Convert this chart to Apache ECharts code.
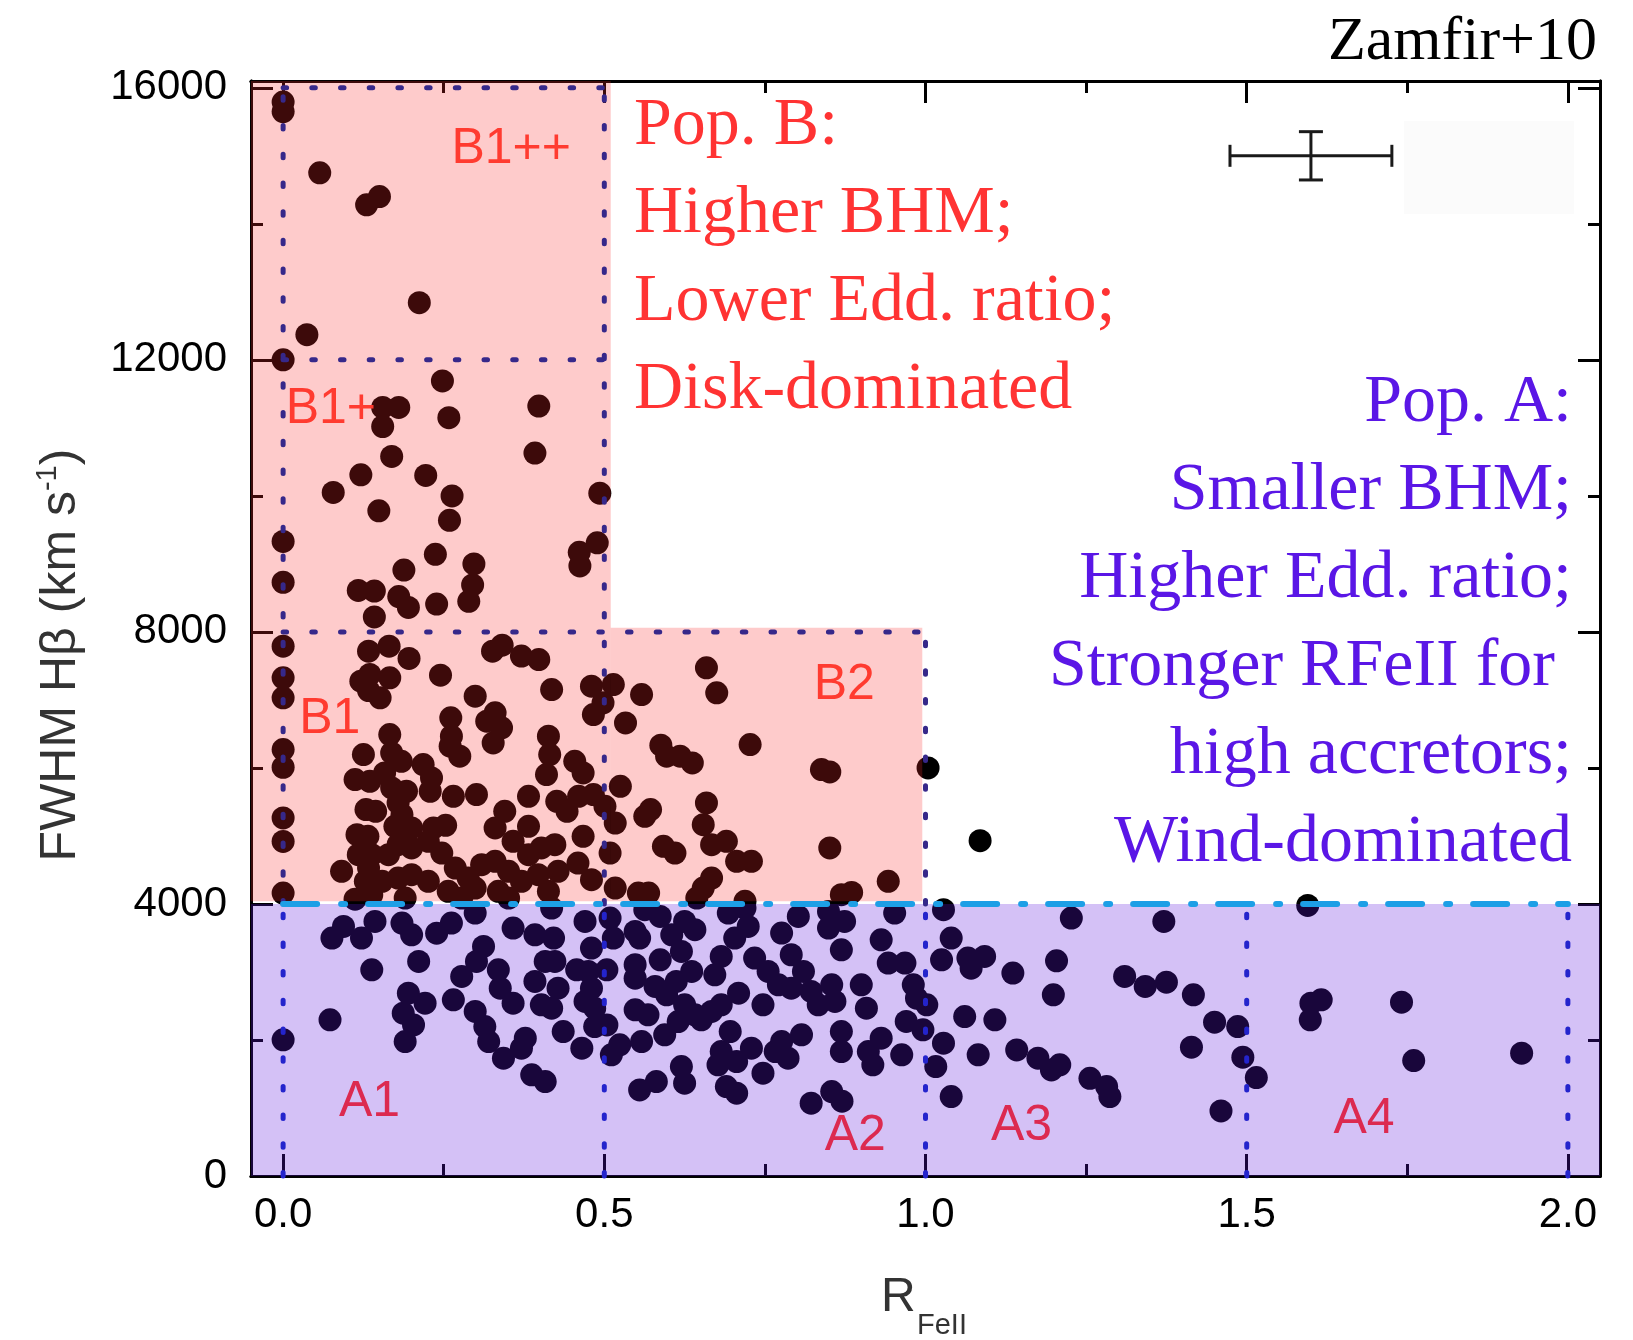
<!DOCTYPE html>
<html><head><meta charset="utf-8">
<script src="https://cdn.jsdelivr.net/npm/echarts@6/dist/echarts.min.js"></script>
<style>html,body{margin:0;padding:0;background:#fff}#chart{width:1633px;height:1340px}</style>
</head><body><div id="chart"></div>
<script>
// ---------------- DATA ----------------
const xTickMajor = [0, 0.5, 1.0, 1.5, 2.0];
const xTickMinor = [0.25, 0.75, 1.25, 1.75];
const yTickMajor = [0, 4000, 8000, 12000, 16000];
const yTickMinor = [2000, 6000, 10000, 14000];

// Population B sources (FWHM > 4000)
const popBPoints = [
[0,15790],[0,15650],[0.057,14750],[0.130,14280],[0.150,14400],[0.212,12840],[0.037,12370],[0,12000],[0.248,11690],[0.155,11300],[0.180,11300],[0.258,11150],[0.155,11020],[0.398,11320],[0.392,10630],[0.169,10580],[0.121,10310],[0.222,10300],[0.078,10050],[0.263,10000],[0.493,10040],[0.149,9780],[0.259,9640],[0,9330],[0.489,9310],[0.461,9170],[0.462,8970],[0.237,9140],[0.297,9000],[0.295,8690],[0.289,8450],[0.188,8910],[0,8730],[0.117,8610],[0.142,8600],[0.180,8520],[0.195,8360],[0.239,8410],[0.142,8220],
[0,7790],[0,7325],[0,7030],[0,6270],[0,6010],[0,5265],[0,4920],[0,4160],
[0.133,7717],[0.165,7790],[0.196,7610],[0.121,7276],[0.135,7374],[0.166,7325],[0.133,7138],[0.151,7030],[0.245,7364],[0.299,7055],[0.326,7717],[0.341,7805],[0.371,7644],[0.398,7594],[0.418,7153],
[0.261,6736],[0.262,6466],[0.260,6319],[0.275,6172],[0.317,6687],[0.330,6810],[0.340,6589],[0.327,6368],[0.166,6491],[0.125,6196],[0.169,6221],[0.184,6098],
[0.112,5828],[0.135,5804],[0.158,5926],[0.169,5706],[0.192,5657],[0.218,6049],[0.231,5853],[0.229,5657],[0.129,5387],[0.144,5362],[0.179,5485],[0.185,5313],[0.265,5583],[0.301,5608],[0.345,5362],[0.382,5583],
[0.115,5019],[0.132,4994],[0.174,5141],[0.200,5117],[0.234,5117],[0.253,5156],[0.330,5117],[0.382,5141],[0.358,4921],
[0.091,4479],[0.117,4725],[0.138,4725],[0.133,4528],[0.164,4725],[0.179,4872],[0.200,4823],[0.226,4921],[0.247,4749],[0.268,4528],[0.288,4381],[0.309,4577],[0.330,4626],[0.351,4479],[0.382,4725],[0.402,4823],
[0.128,4332],[0.154,4332],[0.179,4381],[0.200,4430],[0.226,4332],[0.257,4185],[0.299,4234],[0.335,4185],[0.371,4332],[0.397,4430],[0.413,4185],
[0.112,4070],[0.138,4136],[0.190,4087],[0.278,4087],[0.351,4087],
[0.480,7202],[0.514,7226],[0.558,7079],[0.498,6957],[0.483,6785],[0.533,6662],[0.659,7472],[0.675,7104],[0.727,6343],[0.588,6334],[0.597,6172],[0.618,6172],[0.637,6074],[0.838,5976],[0.851,5941],[0.413,6466],[0.415,6196],[0.410,5902],[0.454,6098],[0.467,5927],[0.525,5730],[0.426,5509],[0.442,5362],[0.460,5583],[0.483,5608],[0.501,5436],[0.517,5190],[0.563,5289],[0.572,5387],[0.659,5485],[0.654,5166],[0.667,4872],[0.690,4921],[0.706,4626],[0.729,4626],[0.592,4847],[0.610,4749],[0.467,4994],[0.423,4872],[0.509,4749],[0.459,4602],[0.480,4357],[0.428,4479],[0.517,4234],[0.553,4160],[0.569,4160],[0.667,4381],[0.654,4234],[0.644,4087],[0.851,4823],[0.869,4136],[0.719,4038],
[0.942,4332],[0.885,4170]
];

// Population A sources (FWHM < 4000)
const popAPoints = [
[0.076,3498],[0.094,3670],[0.122,3498],[0.143,3743],[0.138,3032],[0.073,2296],[0,2002],[0.195,2688],[0.221,2541],[0.187,2394],[0.203,2222],[0.190,1977],[0.211,3155],[0.185,3719],[0.200,3547],[0.239,3571],[0.262,3719],[0.299,3866],[0.312,3375],[0.301,3155],[0.335,3032],[0.278,2934],[0.265,2590],[0.299,2419],[0.314,2198],[0.320,1977],[0.343,1732],[0.338,2762],[0.358,2541],[0.392,2860],[0.402,2517],[0.377,2026],[0.371,1879],[0.387,1487],[0.408,1388],[0.358,3645],[0.392,3547],[0.408,3155],
[0.418,3939],[0.470,3743],[0.509,3792],[0.563,3915],[0.587,3817],[0.625,3743],[0.641,3621],[0.693,3866],[0.719,3939],[0.724,3670],[0.802,3817],[0.849,3890],
[0.421,3498],[0.480,3351],[0.514,3498],[0.555,3498],[0.548,3596],[0.605,3547],[0.620,3302],[0.703,3498],[0.776,3572],[0.791,3253],[0.849,3645],[0.869,3326],
[0.423,3155],[0.457,3032],[0.475,3007],[0.504,3032],[0.548,3106],[0.587,3179],[0.636,3007],[0.682,3228],[0.734,3204],[0.755,3007],[0.810,3007],
[0.428,2762],[0.480,2762],[0.548,2909],[0.579,2787],[0.612,2860],[0.672,2958],[0.709,2688],[0.771,2811],[0.791,2762],[0.822,2713],[0.854,2811],
[0.418,2468],[0.470,2566],[0.485,2468],[0.548,2443],[0.568,2370],[0.597,2664],[0.625,2517],[0.641,2370],[0.667,2419],[0.682,2517],[0.747,2517],[0.833,2517],[0.859,2566],
[0.436,2124],[0.485,2198],[0.504,2222],[0.558,1977],[0.594,2075],[0.615,2271],[0.651,2296],[0.696,2124],[0.776,1977],[0.807,2075],[0.869,2124],
[0.465,1879],[0.511,1781],[0.524,1928],[0.682,1830],[0.706,1683],[0.729,1879],[0.766,1830],[0.786,1732],[0.869,1830],
[0.620,1609],[0.625,1364],[0.677,1634],[0.747,1511],
[0.555,1266],[0.581,1388],[0.690,1315],[0.706,1217],
[0.822,1070],[0.854,1241],[0.870,1100],
[0.952,3866],[1.028,3915],[1.227,3792],[0.874,3743],[0.931,3473],[1.040,3498],[0.942,3130],[0.968,3130],[1.025,3179],[1.066,3204],[1.071,3056],[1.092,3228],[1.136,2983],[1.204,3164],[1.310,2934],[1.199,2664],
[0.900,2811],[0.981,2811],[0.986,2615],[1.002,2517],[0.908,2468],[0.970,2272],[1.061,2345],[1.108,2296],[0.996,2149],[1.028,1953],
[0.931,2026],[0.911,1830],[0.963,1781],[0.918,1634],
[1.016,1609],[1.082,1781],[1.142,1854],[1.175,1732],[1.196,1560],[1.209,1634],[1.256,1437],[1.282,1315],[1.287,1168],[1.040,1168],
[1.371,3743],[1.342,2787],[1.375,2850],[1.417,2664],[1.450,2262],[1.486,2198],[1.414,1894],[1.494,1747],[1.515,1447],[1.460,957],[1.600,2541],[1.616,2590],[1.599,2296],[1.741,2556],[1.760,1697],[1.928,1805]
];

// Sources outside the shaded boxes
const otherPoints = [[1.004,6000],[1.085,4930],[1.595,3979]];

// Shaded regions [x0, y0, x1, y1]
const regionPopB = [[-0.05,4040,0.51,16100],[0.51,4040,0.995,8060]];
const regionPopA = [[-0.05,0,2.05,4000]];

// Dotted bin boundaries [x0, y0, x1, y1]
const binLinesB = [[0,4000,0,16100],[0.5,4000,0.5,16100],[0,16000,0.5,16000],[0,12000,0.5,12000],[0,8000,1.0,8000],[1.0,4000,1.0,8000]];
const binLinesA = [[0,0,0,4000],[0.5,0,0.5,4000],[1.0,0,1.0,4000],[1.5,0,1.5,4000],[2.0,0,2.0,4000]];
const popBoundary = [[0,4000,2.0,4000]];

// typical error bar [x, y, xErr, yErr]
const errorBar = [[1.6,15000,0.126,355]];

// spectral-type labels [x, y]
const labelNamesB = ['B1++','B1+','B1','B2'];
const labelPosB = [[0.262,15090],[0.004,11270],[0.025,6710],[0.826,7220]];
const labelNamesA = ['A1','A2','A3','A4'];
const labelPosA = [[0.087,1090],[0.843,580],[1.102,725],[1.635,830]];

const popBText = ['Pop. B:','Higher BHM;','Lower Edd. ratio;','Disk-dominated'];
const popAText = ['Pop. A:','Smaller BHM;','Higher Edd. ratio;','Stronger RFeII for ','high accretors;','Wind-dominated'];

// ---------------- CHART ----------------
const SANS = '"Liberation Sans", Arial, Helvetica, sans-serif';
const SERIF = '"Liberation Serif", "Times New Roman", serif';
const X_MIN = -0.05, X_MAX = 2.05, Y_MIN = 0, Y_MAX = 16100;

function xAxisDef(pos, ticks, len, labels) {
  return {
    type: 'value', min: X_MIN, max: X_MAX, position: pos,
    axisLine: { show: true, onZero: false, lineStyle: { color: '#000', width: 3 } },
    axisTick: { show: true, inside: true, length: len, customValues: ticks, lineStyle: { color: '#000', width: 3 } },
    axisLabel: labels ? { show: true, customValues: ticks, formatter: v => Number(v).toFixed(1), fontSize: 42, fontFamily: SANS, color: '#000', margin: 18 } : { show: false },
    splitLine: { show: false }
  };
}
function yAxisDef(pos, ticks, len, labels) {
  return {
    type: 'value', min: Y_MIN, max: Y_MAX, position: pos,
    axisLine: { show: true, onZero: false, lineStyle: { color: '#000', width: 3 } },
    axisTick: { show: true, inside: true, length: len, customValues: ticks, lineStyle: { color: '#000', width: 3 } },
    axisLabel: labels ? { show: true, customValues: ticks, formatter: v => String(Math.round(v)), fontSize: 42, fontFamily: SANS, color: '#000', margin: 24 } : { show: false },
    splitLine: { show: false }
  };
}

function rectSeries(data, fill, z) {
  return {
    type: 'custom', data, z, silent: true,
    renderItem(params, api) {
      const a = api.coord([api.value(0), api.value(3)]);
      const b = api.coord([api.value(2), api.value(1)]);
      return { type: 'rect', shape: { x: a[0], y: a[1], width: b[0] - a[0], height: b[1] - a[1] }, style: { fill } };
    }
  };
}
function segSeries(data, style, z) {
  return {
    type: 'custom', data, z, silent: true,
    renderItem(params, api) {
      const a = api.coord([api.value(0), api.value(1)]);
      const b = api.coord([api.value(2), api.value(3)]);
      return { type: 'line', shape: { x1: a[0], y1: a[1], x2: b[0], y2: b[1] }, style: Object.assign({ fill: null }, style) };
    }
  };
}
function labelSeries(pos, names, color, z) {
  return {
    type: 'custom', data: pos, z, silent: true,
    renderItem(params, api) {
      const p = api.coord([api.value(0), api.value(1)]);
      return { type: 'text', x: p[0], y: p[1], style: { text: names[params.dataIndex], font: '50px ' + SANS, fill: color, align: 'left', verticalAlign: 'middle' } };
    }
  };
}
function scatterSeries(data) {
  return { type: 'scatter', data, symbol: 'circle', symbolSize: 23, z: 2, silent: true,
    itemStyle: { color: '#000', opacity: 1, borderWidth: 0 } };
}

const dotB = { stroke: '#36288a', lineWidth: 5, lineDash: [3.5, 25.2], lineCap: 'round' };
const dotA = { stroke: '#2424cc', lineWidth: 5, lineDash: [3.5, 25.2], lineCap: 'round' };

const chart = echarts.init(document.getElementById('chart'), null, { renderer: 'canvas' });
chart.setOption({
  animation: false,
  backgroundColor: '#ffffff',
  grid: { left: 251, right: 33, top: 81, bottom: 164, containLabel: false, outerBoundsMode: 'none' },
  xAxis: [
    xAxisDef('bottom', xTickMajor, 22, true),
    xAxisDef('bottom', xTickMinor, 12, false),
    xAxisDef('top', xTickMajor, 22, false),
    xAxisDef('top', xTickMinor, 12, false)
  ],
  yAxis: [
    yAxisDef('left', yTickMajor, 22, true),
    yAxisDef('left', yTickMinor, 12, false),
    yAxisDef('right', yTickMajor, 22, false),
    yAxisDef('right', yTickMinor, 12, false)
  ],
  series: [
    scatterSeries(popBPoints),
    scatterSeries(popAPoints),
    scatterSeries(otherPoints),
    rectSeries(regionPopB, 'rgba(250,40,40,0.245)', 3),
    rectSeries(regionPopA, 'rgba(92,24,222,0.265)', 3),
    segSeries(binLinesB, dotB, 4),
    segSeries(binLinesA, dotA, 4),
    segSeries(popBoundary, { stroke: '#1d9fe6', lineWidth: 6, lineDash: [34, 24, 4, 23], lineCap: 'round' }, 5),
    {
      type: 'custom', data: errorBar, z: 5, silent: true,
      renderItem(params, api) {
        const c = api.coord([api.value(0), api.value(1)]);
        const l = api.coord([api.value(0) - api.value(2), api.value(1)]);
        const r = api.coord([api.value(0) + api.value(2), api.value(1)]);
        const t = api.coord([api.value(0), api.value(1) + api.value(3)]);
        const b = api.coord([api.value(0), api.value(1) - api.value(3)]);
        const st = { stroke: '#1a1a1a', lineWidth: 3 };
        const ln = (x1, y1, x2, y2) => ({ type: 'line', shape: { x1, y1, x2, y2 }, style: st });
        return { type: 'group', children: [
          ln(l[0], c[1], r[0], c[1]), ln(c[0], t[1], c[0], b[1]),
          ln(l[0], c[1] - 11, l[0], c[1] + 11), ln(r[0], c[1] - 11, r[0], c[1] + 11),
          ln(c[0] - 12, t[1], c[0] + 12, t[1]), ln(c[0] - 12, b[1], c[0] + 12, b[1])
        ] };
      }
    },
    labelSeries(labelPosB, labelNamesB, '#ff3b30', 6),
    labelSeries(labelPosA, labelNamesA, '#dc2a50', 6)
  ],
  graphic: [
    { type: 'rect', z: -1, shape: { x: 1404, y: 121, width: 170, height: 93 }, style: { fill: '#fbfbfb' } },
    { type: 'text', x: 1597, y: 12, style: { text: 'Zamfir+10', font: '62px ' + SERIF, fill: '#000', align: 'right', verticalAlign: 'top', lineHeight: 62 } },
    { type: 'text', x: 634, y: 82, z: 10, style: { text: popBText.join('\n'), font: '68px ' + SERIF, fill: '#ff3333', align: 'left', verticalAlign: 'top', lineHeight: 88 } },
    { type: 'text', x: 1572, y: 359, z: 10, style: { text: popAText.join('\n'), font: '68px ' + SERIF, fill: '#5a16e6', align: 'right', verticalAlign: 'top', lineHeight: 88 } },
    { type: 'text', x: 61, y: 655, rotation: Math.PI / 2, style: {
        text: '{a|FWHM Hβ (km s}{s|-1}{a|)}', align: 'center', verticalAlign: 'middle',
        rich: { a: { fontSize: 50, fontFamily: SANS, fill: '#333', lineHeight: 56 },
                s: { fontSize: 29, fontFamily: SANS, fill: '#333', lineHeight: 56, verticalAlign: 'top', padding: [0, 0, 0, 0] } } } },
    { type: 'text', x: 881, y: 1298, style: { text: 'R', font: '48px ' + SANS, fill: '#333', align: 'left', verticalAlign: 'middle' } },
    { type: 'text', x: 917, y: 1326, style: { text: 'FeII', font: '29px ' + SANS, fill: '#333', align: 'left', verticalAlign: 'middle' } }
  ]
});
</script>
</body></html>
